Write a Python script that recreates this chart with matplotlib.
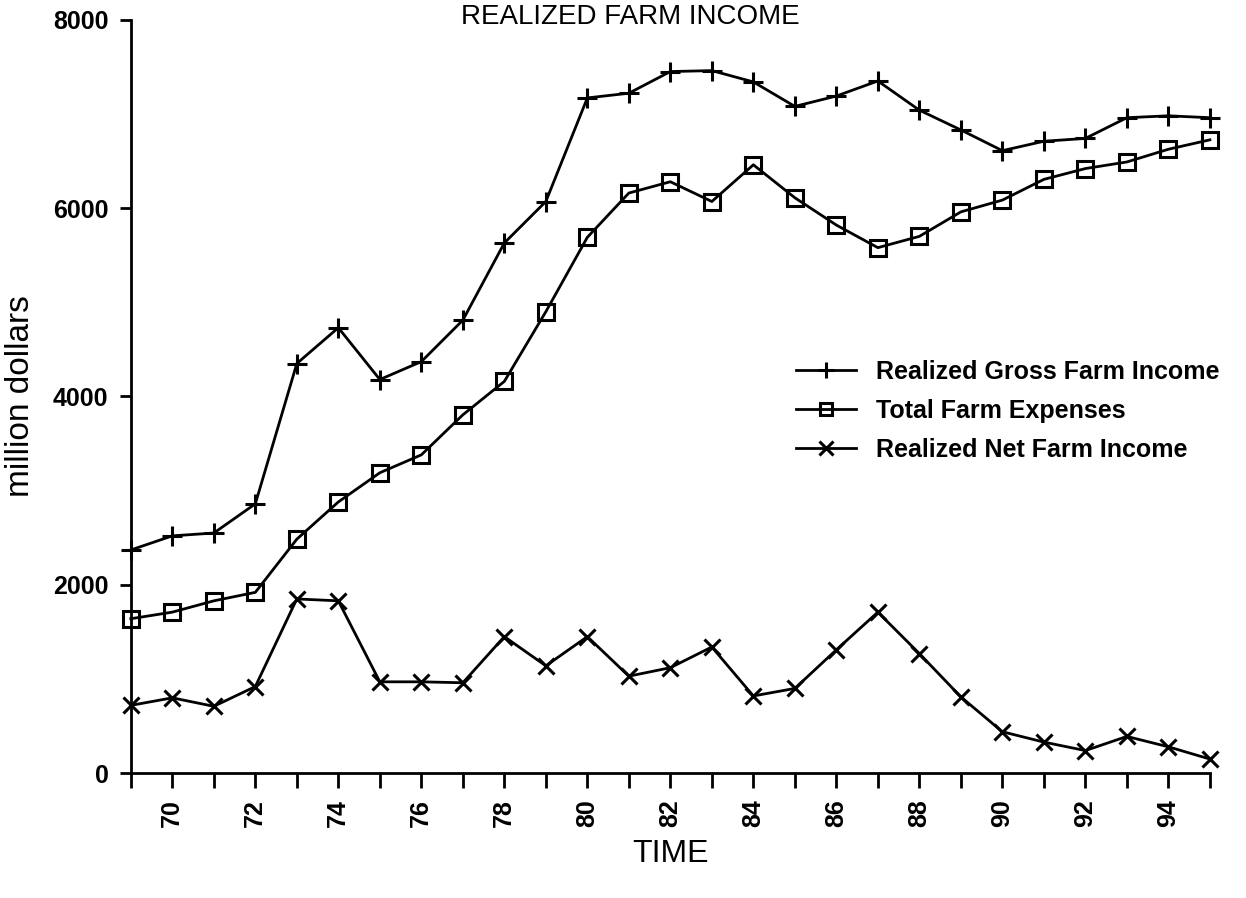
import matplotlib
matplotlib.use("Agg")
import matplotlib.pyplot as plt
from matplotlib.ticker import MultipleLocator, FixedLocator

years = list(range(69, 96))
gross_income = [2370, 2520, 2550, 2860, 4350, 4730, 4180, 4370, 4810, 5630, 6070,
                7170, 7220, 7450, 7460, 7340, 7080, 7190, 7350, 7040, 6830, 6610,
                6710, 6740, 6960, 6980, 6960]
total_expenses = [1640, 1710, 1830, 1920, 2485, 2880, 3190, 3380, 3805, 4160, 4900,
                  5690, 6160, 6280, 6070, 6460, 6110, 5820, 5580, 5700, 5960, 6085,
                  6305, 6420, 6490, 6625, 6725]
net_income = [720, 800, 710, 920, 1850, 1830, 970, 970, 960, 1450, 1140,
              1450, 1030, 1120, 1340, 820, 900, 1310, 1710, 1270, 810, 440,
              330, 240, 390, 280, 150]
labels = ["Realized Gross Farm Income", "Total Farm Expenses", "Realized Net Farm Income"]
title = "REALIZED FARM INCOME"
even_years = list(range(70, 95, 2))

fig = plt.figure(figsize=(12.46, 8.98), dpi=100)
ax = fig.add_axes([0.105, 0.139, 0.866, 0.839])

lw = 2.0
ax.plot(years, gross_income, color="black", lw=lw, marker="+", ms=15, mew=2.2,
        label=labels[0], clip_on=False)
ax.plot(years, total_expenses, color="black", lw=lw, marker="s", ms=11, mew=2.2,
        mfc="none", label=labels[1], clip_on=False)
ax.plot(years, net_income, color="black", lw=lw, marker="x", ms=12, mew=2.2,
        label=labels[2], clip_on=False)

ax.set_xlim(69, 95)
ax.set_ylim(0, 8000)
for s in ["top", "right"]:
    ax.spines[s].set_visible(False)
for s in ["left", "bottom"]:
    ax.spines[s].set_linewidth(2)

ax.xaxis.set_major_locator(FixedLocator(even_years))
ax.xaxis.set_minor_locator(MultipleLocator(1))
ax.set_xticks(even_years)
ax.set_xticklabels([str(y) for y in even_years], rotation=90,
                   fontsize=18, fontweight="bold", family="Liberation Sans")
ax.tick_params(axis="x", which="both", direction="out", length=11, width=2, pad=8)
ax.yaxis.set_major_locator(MultipleLocator(2000))
ax.tick_params(axis="y", which="major", direction="out", length=8, width=2, pad=8)
for lab in ax.get_yticklabels():
    lab.set_fontsize(18)
    lab.set_fontweight("bold")
    lab.set_family("Liberation Sans")

ax.set_ylabel("million dollars", fontsize=24, family="Liberation Sans", labelpad=12)
ax.set_xlabel("TIME", fontsize=23, family=["Liberation Sans Narrow", "Liberation Sans"],
              labelpad=8)

fig.text(0.506, 0.996, title, ha="center", va="top", fontsize=20,
         family="Liberation Sans")

leg = ax.legend(loc="upper left", bbox_to_anchor=(0.616, 0.549), frameon=False,
                borderaxespad=0, borderpad=0,
                prop={"family": "Liberation Sans", "weight": "bold", "size": 18},
                handlelength=2.4, labelspacing=0.6, handletextpad=0.8, markerscale=0.8)

fig.savefig("out.png", dpi=100)
